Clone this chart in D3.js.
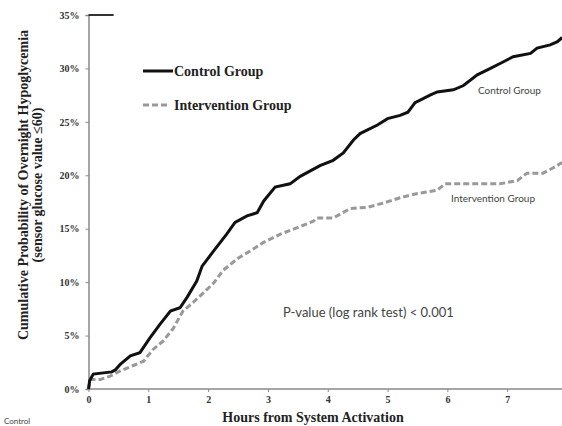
<!DOCTYPE html>
<html>
<head>
  <meta charset="UTF-8">
  <title>Cumulative Probability of Overnight Hypoglycemia</title>
  <script src="https://cdn.jsdelivr.net/npm/d3@7"></script>
  <style>
    body { margin: 0; background: #fff; }
    .tick text { font-family: "Liberation Serif", serif; font-weight: bold; font-size: 10px; fill: #333; }
    .note { font-family: Lato, "Open Sans", sans-serif; fill: #444; }
    .title { font-family: "Liberation Serif", serif; font-weight: bold; fill: #222; }
  </style>
</head>
<body>
  <div id="chart"></div>
  <script>
    // values (hours, percent)
    const controlHours = [0, 0.02, 0.08, 0.39, 0.45, 0.53, 0.70, 0.86, 1.03, 1.20, 1.37, 1.53, 1.65, 1.81, 1.90, 2.09, 2.31, 2.45, 2.65, 2.82, 2.93, 3.12, 3.37, 3.54, 3.87, 4.09, 4.26, 4.43, 4.54, 4.83, 5.00, 5.21, 5.34, 5.46, 5.71, 5.83, 6.10, 6.27, 6.50, 6.72, 6.93, 7.10, 7.39, 7.50, 7.72, 7.84, 7.92];
    const controlPct = [0, 0.8, 1.4, 1.6, 1.8, 2.3, 3.1, 3.4, 4.8, 6.1, 7.3, 7.6, 8.6, 10.1, 11.5, 12.9, 14.5, 15.6, 16.2, 16.5, 17.6, 18.9, 19.2, 19.9, 20.9, 21.4, 22.1, 23.3, 23.9, 24.7, 25.3, 25.6, 25.9, 26.8, 27.5, 27.8, 28.0, 28.4, 29.4, 30.0, 30.6, 31.1, 31.4, 31.9, 32.2, 32.5, 32.9];

    const interventionHours = [0, 0.02, 0.03, 0.2, 0.36, 0.53, 0.75, 0.92, 1.08, 1.25, 1.42, 1.58, 1.75, 1.92, 2.09, 2.25, 2.49, 2.70, 2.92, 3.21, 3.49, 3.76, 3.82, 4.09, 4.38, 4.66, 4.93, 5.21, 5.50, 5.83, 5.96, 6.33, 6.88, 7.17, 7.33, 7.60, 7.77, 7.92];
    const interventionPct = [0, 0.6, 0.9, 0.9, 1.2, 1.7, 2.2, 2.6, 3.7, 4.5, 5.7, 7.3, 8.1, 9.0, 9.9, 11.1, 12.2, 12.9, 13.7, 14.5, 15.1, 15.7, 16.0, 16.0, 16.9, 17.0, 17.4, 17.9, 18.3, 18.6, 19.2, 19.2, 19.2, 19.5, 20.2, 20.2, 20.7, 21.2];

    const xTicks = [0, 1, 2, 3, 4, 5, 6, 7];
    const yTicks = [0, 5, 10, 15, 20, 25, 30, 35];

    const width = 562, height = 426;
    const svg = d3.select('#chart').append('svg')
      .attr('width', width).attr('height', height);

    const x = d3.scaleLinear().domain([0, 8]).range([88.5, 567]);
    const y = d3.scaleLinear().domain([0, 35]).range([389, 15]);

    // axes
    const yAxis = svg.append('g').attr('transform', 'translate(88.5,0)')
      .call(d3.axisLeft(y).tickValues(yTicks).tickSize(3).tickPadding(6).tickFormat(d => d + '%'));
    const xAxis = svg.append('g').attr('transform', 'translate(0,389)')
      .call(d3.axisBottom(x).tickValues(xTicks).tickSize(3).tickPadding(4));
    [yAxis, xAxis].forEach(g =>
    {
      g.select('.domain').attr('stroke', '#888').attr('stroke-width', 1.5);
      g.selectAll('.tick line').attr('stroke', '#888');
    });
    xAxis.select('.domain').attr('d', 'M88.5,0H562');

    // odd dark stub at the top of the y axis
    svg.append('line')
      .attr('x1', x(0)).attr('x2', x(0.42)).attr('y1', y(35)).attr('y2', y(35))
      .attr('stroke', '#333').attr('stroke-width', 2);

    const line = d3.line().x(d => x(d[0])).y(d => y(d[1]));

    svg.append('path')
      .datum(d3.zip(interventionHours, interventionPct))
      .attr('d', line)
      .attr('fill', 'none').attr('stroke', '#999').attr('stroke-width', 3)
      .attr('stroke-dasharray', '6,3');

    svg.append('path')
      .datum(d3.zip(controlHours, controlPct))
      .attr('d', line)
      .attr('fill', 'none').attr('stroke', '#111').attr('stroke-width', 3);

    // legend
    svg.append('line').attr('x1', 143).attr('x2', 173).attr('y1', 71).attr('y2', 71)
      .attr('stroke', '#111').attr('stroke-width', 3);
    svg.append('text').attr('class', 'title').attr('x', 174).attr('y', 76)
      .style('font-size', '14px').text('Control Group');
    svg.append('line').attr('x1', 143).attr('x2', 168).attr('y1', 105).attr('y2', 105)
      .attr('stroke', '#999').attr('stroke-width', 3).attr('stroke-dasharray', '6,3');
    svg.append('text').attr('class', 'title').attr('x', 174).attr('y', 110)
      .style('font-size', '14px').text('Intervention Group');

    // notes in the plot
    svg.append('text').attr('class', 'note').attr('x', 478).attr('y', 94)
      .style('font-size', '10px').text('Control Group');
    svg.append('text').attr('class', 'note').attr('x', 451).attr('y', 202)
      .style('font-size', '10px').text('Intervention Group');
    svg.append('text').attr('class', 'note').attr('x', 283).attr('y', 317)
      .style('font-size', '13px').text('P-value (log rank test) < 0.001');
    svg.append('text').attr('class', 'note').attr('x', 4).attr('y', 424)
      .style('font-size', '8px').text('Control');

    // axis titles
    svg.append('text').attr('class', 'title')
      .attr('text-anchor', 'middle').attr('x', 313).attr('y', 422)
      .style('font-size', '14px').text('Hours from System Activation');
    const yTitle = svg.append('g').attr('transform', 'translate(0,185) rotate(-90)');
    yTitle.append('text').attr('class', 'title').attr('text-anchor', 'middle')
      .attr('x', 0).attr('y', 28).style('font-size', '14px')
      .text('Cumulative Probability of Overnight Hypoglycemia');
    yTitle.append('text').attr('class', 'title').attr('text-anchor', 'middle')
      .attr('x', 0).attr('y', 42).style('font-size', '14px')
      .text('(sensor glucose value ≤60)');
  </script>
</body>
</html>
